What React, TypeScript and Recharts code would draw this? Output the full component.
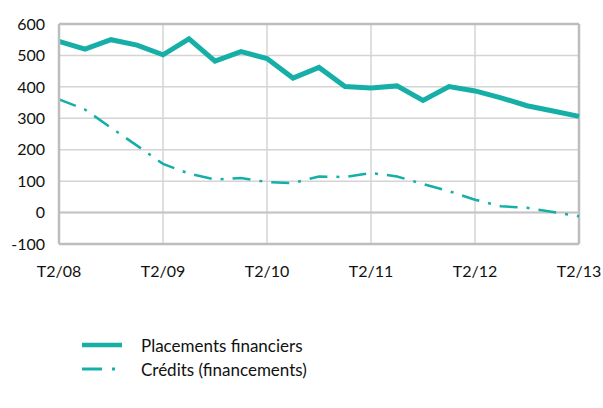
import { CartesianGrid, Line, LineChart, ReferenceLine, XAxis, YAxis } from 'recharts'

const quarters = [
  'T2/08', 'T3/08', 'T4/08', 'T1/09',
  'T2/09', 'T3/09', 'T4/09', 'T1/10',
  'T2/10', 'T3/10', 'T4/10', 'T1/11',
  'T2/11', 'T3/11', 'T4/11', 'T1/12',
  'T2/12', 'T3/12', 'T4/12', 'T1/13',
  'T2/13',
]
const placements = [545, 520, 550, 533, 502, 553, 482, 512, 490, 428, 462, 401, 396, 403, 357, 401, 387, 365, 340, 323, 306]
const credits = [360, 328, 270, 213, 155, 124, 105, 110, 97, 94, 115, 113, 126, 115, 91, 68, 41, 20, 15, 2, -12]
const yearTicks = ['T2/08', 'T2/09', 'T2/10', 'T2/11', 'T2/12', 'T2/13']
const valueTicks = [-100, 0, 100, 200, 300, 400, 500, 600]

const TEAL = '#16AFA8'
const BORDER = '#bdbdbd'
const FONT = 'Lato, "Open Sans", sans-serif'

const data = quarters.map((q, i) => ({ q, placements: placements[i], credits: credits[i] }))

function LegendRow({ label, dashed }: { label: string; dashed?: boolean }) {
  return (
    <div style={{ display: 'flex', alignItems: 'center', height: 24 }}>
      <svg width={50} height={10} style={{ marginRight: 9 }}>
        {dashed ? (
          <line x1={0} y1={5} x2={34} y2={5} stroke={TEAL} strokeWidth={3} strokeDasharray="20 10 3 10" />
        ) : (
          <line x1={0} y1={5} x2={40} y2={5} stroke={TEAL} strokeWidth={4.5} />
        )}
      </svg>
      <span>{label}</span>
    </div>
  )
}

export default function App() {
  return (
    <div style={{ position: 'absolute', left: 0, top: 0, width: 603, height: 408, background: '#fff', fontFamily: FONT }}>
      <LineChart width={603} height={300} data={data} margin={{ top: 24, right: 24, bottom: 0, left: 0 }}>
        <CartesianGrid stroke="#d4d4d4" strokeWidth={1.5} />
        <XAxis
          dataKey="q"
          ticks={yearTicks}
          interval={0}
          tickLine={false}
          tickMargin={16}
          height={56}
          axisLine={{ stroke: BORDER, strokeWidth: 2.5 }}
          tick={{ fill: '#111', fontSize: 16, fontFamily: FONT }}
        />
        <YAxis
          domain={[-100, 600]}
          ticks={valueTicks}
          interval={0}
          width={59}
          tickLine={false}
          tickMargin={8}
          axisLine={{ stroke: BORDER, strokeWidth: 2.5 }}
          tick={{ fill: '#111', fontSize: 16, fontFamily: FONT }}
        />
        <ReferenceLine y={600} stroke={BORDER} strokeWidth={2.5} />
        <ReferenceLine x="T2/13" stroke={BORDER} strokeWidth={2.5} />
        <ReferenceLine y={0} stroke="#c4c4c4" strokeWidth={2} />
        <Line
          dataKey="credits"
          stroke={TEAL}
          strokeWidth={2.5}
          strokeDasharray="18 9 3 9"
          dot={false}
          isAnimationActive={false}
        />
        <Line dataKey="placements" stroke={TEAL} strokeWidth={5} dot={false} isAnimationActive={false} />
      </LineChart>
      <div style={{ position: 'absolute', left: 82, top: 333, fontSize: 17, color: '#111' }}>
        <LegendRow label="Placements financiers" />
        <LegendRow label="Crédits (financements)" dashed />
      </div>
    </div>
  )
}
